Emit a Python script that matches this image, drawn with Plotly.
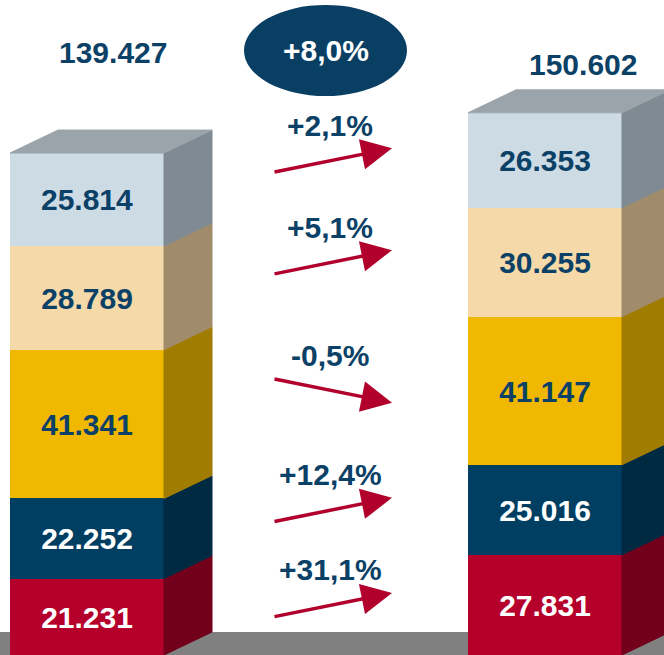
import plotly.graph_objects as go

# ---------------- data ----------------
segments = ["Segment 1", "Segment 2", "Segment 3", "Segment 4", "Segment 5"]  # bottom -> top
left_values = [21231, 22252, 41341, 28789, 25814]
right_values = [27831, 25016, 41147, 30255, 26353]

# ---------------- style ----------------
front_colors = ["#b4002b", "#003e62", "#f0b800", "#f6d9a9", "#cddbe5"]
side_colors = ["#72001b", "#002a42", "#a07c00", "#a08b6b", "#7f8a92"]
top_color = "#9aa4aa"
text_colors = ["white", "white", "#0b4166", "#0b4166", "#0b4166"]
navy = "#0b4166"
arrow_red = "#b0002b"
ground_color = "#808080"
FONT = "Liberation Sans"

W, H = 664, 655
PX_PER_UNIT = 0.0036          # pixels per value unit
bar_x = [87, 545]             # bar centres (x axis in pixel units)
bar_w = 154
depth_x = 48


def yv(p):
    """pixel row -> value on y axis"""
    return (H - p) / PX_PER_UNIT


def dyv(dp):
    return dp / PX_PER_UNIT


depth_y = dyv(23)

fig = go.Figure()

series = [left_values, right_values]

# front faces (stacked bars)
for k, seg in enumerate(segments):
    fig.add_trace(go.Bar(
        name=seg, x=bar_x, y=[left_values[k], right_values[k]], width=bar_w,
        marker=dict(color=front_colors[k], line=dict(width=0)),
        texttemplate="%{y:,.0f}", textposition="inside", insidetextanchor="middle",
        textangle=0, constraintext="none",
        textfont=dict(family=FONT, size=30, color=text_colors[k], weight="bold"),
        hoverinfo="skip", showlegend=False,
    ))

# side faces and top faces computed from the stacked values
for i, vals in enumerate(series):
    xl = bar_x[i] - bar_w / 2
    xr = bar_x[i] + bar_w / 2
    base = 0
    for k, v in enumerate(vals):
        b, t = base, base + v
        fig.add_trace(go.Scatter(
            x=[xr, xr + depth_x, xr + depth_x, xr, xr],
            y=[b, b + depth_y, t + depth_y, t, b],
            mode="lines", fill="toself", fillcolor=side_colors[k],
            line=dict(color=side_colors[k], width=1),
            hoverinfo="skip", showlegend=False,
        ))
        base = t
    top = base
    fig.add_trace(go.Scatter(
        x=[xl, xl + depth_x, xr + depth_x, xr, xl],
        y=[top, top + depth_y, top + depth_y, top, top],
        mode="lines", fill="toself", fillcolor=top_color,
        line=dict(color=top_color, width=1),
        hoverinfo="skip", showlegend=False,
    ))

annotations = []
shapes = [
    dict(type="rect", xref="paper", yref="y", x0=0, x1=1, y0=0, y1=yv(632),
         fillcolor=ground_color, line=dict(width=0), layer="below"),
]

# totals
totals = [sum(left_values), sum(right_values)]
total_pos = [(113, 52), (583, 64)]
for tot, (px, py) in zip(totals, total_pos):
    annotations.append(dict(
        x=px, y=yv(py), xref="x", yref="y", showarrow=False,
        text=f"{tot:,}".replace(",", "."),
        font=dict(family=FONT, size=30, color=navy, weight="bold"),
    ))

# overall growth ellipse
growth = (totals[1] / totals[0] - 1) * 100
shapes.append(dict(type="circle", xref="x", yref="y", x0=244, x1=407,
                   y0=yv(96), y1=yv(5), fillcolor="#0a3f64", line=dict(width=0)))
annotations.append(dict(
    x=325.5, y=yv(50), xref="x", yref="y", showarrow=False,
    text=f"{growth:+.1f}%".replace(".", ","),
    font=dict(family=FONT, size=30, color="white", weight="bold"),
))

# per-segment growth arrows and labels
base = 0
for k in range(len(segments)):
    lv, rv = left_values[k], right_values[k]
    mid = base + rv / 2
    base += rv
    chg = (rv / lv - 1) * 100
    sgn = 1 if chg >= 0 else -1
    y_start = mid - sgn * dyv(12)
    y_end = mid + sgn * dyv(12)
    annotations.append(dict(
        x=392, y=y_end, ax=273, ay=y_start, xref="x", yref="y",
        axref="x", ayref="y", text="", showarrow=True,
        arrowhead=2, arrowsize=1.75, arrowwidth=3.5, arrowcolor=arrow_red,
        standoff=0, startstandoff=0,
    ))
    annotations.append(dict(
        x=330, y=mid + dyv(35), xref="x", yref="y", showarrow=False,
        text=f"{chg:+.1f}%".replace(".", ","),
        font=dict(family=FONT, size=30, color=navy, weight="bold"),
    ))

fig.update_layout(
    width=W, height=H, autosize=False,
    margin=dict(l=0, r=0, t=0, b=0, pad=0),
    paper_bgcolor="white", plot_bgcolor="white",
    barmode="stack", bargap=0,
    separators=",.",
    showlegend=False,
    xaxis=dict(range=[0, W], visible=False, fixedrange=True),
    yaxis=dict(range=[0, yv(0)], visible=False, fixedrange=True),
    shapes=shapes, annotations=annotations,
)

fig.write_html(
    "out.html",
    config={"displayModeBar": False},
    post_script="document.body.style.margin='0px';document.body.style.overflow='hidden';",
)
